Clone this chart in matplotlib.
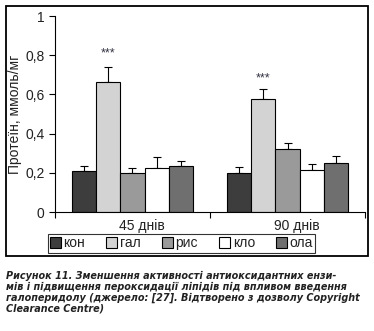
import matplotlib.pyplot as plt
import numpy as np
from matplotlib.patches import Rectangle

plt.rcParams["font.family"] = ["Liberation Sans", "DejaVu Sans"]

groups = ["45 днів", "90 днів"]
series = ["кон", "гал", "рис", "кло", "ола"]
colors = ["#3d3d3d", "#d3d3d3", "#9a9a9a", "#ffffff", "#6f6f6f"]

# mean values per series, [45 days, 90 days]
means = {
    "кон": [0.21, 0.20],
    "гал": [0.665, 0.575],
    "рис": [0.20, 0.32],
    "кло": [0.225, 0.215],
    "ола": [0.235, 0.25],
}
errs = {
    "кон": [0.025, 0.03],
    "гал": [0.075, 0.055],
    "рис": [0.025, 0.03],
    "кло": [0.055, 0.03],
    "ола": [0.025, 0.036],
}
stars = ["***", "***"]
star_y = [0.81, 0.68]

caption = [
    "Рисунок 11. Зменшення активності антиоксидантних ензи-",
    "мів і підвищення пероксидації ліпідів під впливом введення",
    "галоперидолу (джерело: [27]. Відтворено з дозволу Copyright",
    "Clearance Centre)",
]

fig = plt.figure(figsize=(3.74, 3.31), dpi=100)
ax = fig.add_axes([0.147, 0.3595, 0.829, 0.592])

width = 0.155
x = np.arange(len(groups)) + 0.5
for i, s in enumerate(series):
    pos = x + (i - 2) * width
    ax.bar(pos, means[s], width, color=colors[i], edgecolor="black",
           linewidth=0.8, label=s, zorder=2)
    ax.errorbar(pos, means[s], yerr=[np.zeros(len(groups)), errs[s]],
                fmt="none", ecolor="black", elinewidth=0.8, capsize=3,
                capthick=0.8, zorder=1)

for g in range(len(groups)):
    ax.text(x[g] - width, star_y[g], stars[g], ha="center", va="center",
            fontsize=9, color="#333344")

ax.set_xlim(0, 2)
ax.set_ylim(0, 1)
ax.set_yticks([0, 0.2, 0.4, 0.6, 0.8, 1])
ax.set_yticklabels(["0", "0,2", "0,4", "0,6", "0,8", "1"], fontsize=10, color="#222222")
ax.set_xticks([0, 1, 2])
ax.set_xticklabels([])
ax.set_xticks(x + 0.06, minor=True)
ax.set_xticklabels(groups, minor=True, fontsize=10, color="#222222")
ax.tick_params(axis="x", which="minor", length=0, pad=5)
ax.tick_params(axis="both", which="major", length=4, width=0.8, direction="out")
ax.spines["top"].set_visible(False)
ax.spines["right"].set_visible(False)
ax.set_ylabel("Протеїн, ммоль/мг", fontsize=10, color="#222222", labelpad=2)

fig.legend(loc="center", bbox_to_anchor=(0.485, 0.2644), ncol=5, fontsize=10,
           frameon=True, fancybox=False, edgecolor="black", handlelength=0.8,
           handleheight=0.8, handletextpad=0.2, columnspacing=1.5,
           borderpad=0.15, labelcolor="#222222").get_frame().set_linewidth(0.8)

fig.patches.append(Rectangle((6 / 374, 1 - 256 / 331), 362 / 374, 250 / 331,
                             transform=fig.transFigure, fill=False,
                             edgecolor="black", linewidth=1.3))

# caption: shrink font so the longest line fits the frame width
renderer = fig.canvas.get_renderer()
texts = []
for k, line in enumerate(caption):
    texts.append(fig.text(6 / 374, 1 - (279 + k * 10.7) / 331, line,
                          fontsize=8, fontweight="bold", fontstyle="italic",
                          family="DejaVu Sans", fontstretch="condensed",
                          color="#222222", va="baseline"))
w = max(t.get_window_extent(renderer).width for t in texts)
size = 8 * 356 / w
for t in texts:
    t.set_fontsize(size)

fig.savefig("out.png", dpi=100)
